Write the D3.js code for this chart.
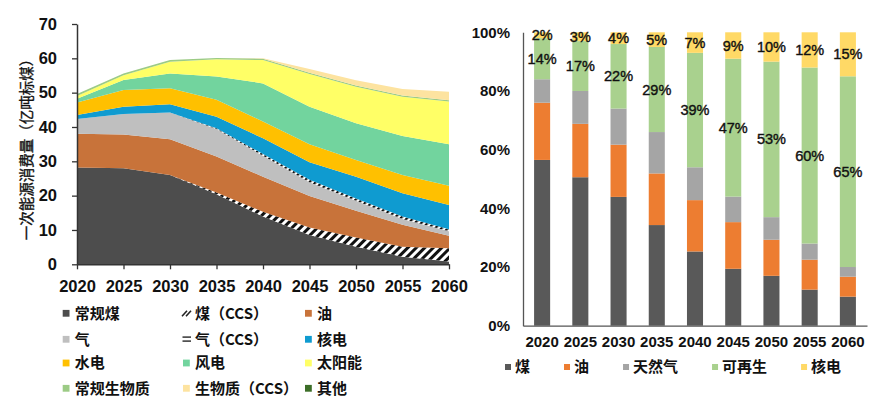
<!DOCTYPE html>
<html>
<head>
<meta charset="utf-8">
<script src="https://cdn.jsdelivr.net/npm/d3@7"></script>
<style>
body { margin: 0; background: #fff; }
svg { display: block; font-family: "Liberation Sans", Arial, "Noto Sans CJK SC", sans-serif; }
.cjk { font-family: "Noto Sans CJK SC", sans-serif; }
</style>
</head>
<body>
<svg id="chart" width="886" height="402"></svg>
<script>
// ---- data: left chart (亿吨标煤) ----
const years = [2020, 2025, 2030, 2035, 2040, 2045, 2050, 2055, 2060];
const yTicksLeft = [0, 10, 20, 30, 40, 50, 60, 70];

const coalConv = [28.2, 28.0, 26.0, 20.4, 13.9, 8.5, 5.1, 2.2, 0.8];
const coalCCS  = [0, 0, 0, 0.5, 1.4, 2.2, 2.7, 2.9, 3.9];
const oil      = [9.8, 9.8, 10.4, 10.5, 10.2, 9.2, 7.8, 6.4, 3.6];
const gas      = [4.3, 6.0, 7.8, 8.0, 6.1, 4.0, 2.9, 1.7, 1.3];
const gasCCS   = [0, 0, 0, 0.2, 0.5, 0.7, 0.7, 0.7, 0.6];
const nuclear  = [1.2, 2.1, 2.4, 3.4, 4.6, 5.1, 6.3, 6.8, 7.1];
const hydro    = [3.6, 4.9, 4.7, 4.9, 4.9, 5.3, 4.9, 5.3, 5.6];
const wind     = [1.1, 2.9, 4.3, 6.8, 11.1, 10.9, 10.7, 11.4, 12.1];
const solar    = [0.8, 1.4, 3.4, 5.0, 6.8, 9.5, 10.6, 11.4, 12.4];
const bioConv  = [0.6, 0.5, 0.5, 0.4, 0.4, 0.4, 0.4, 0.4, 0.4];
const bioCCS   = [0, 0, 0, 0, 0.1, 1.1, 1.5, 1.9, 2.5];
const other    = [0, 0, 0, 0, 0, 0, 0, 0, 0];

// ---- data: right chart (%) ----
const shareKeys = ["煤", "油", "天然气", "可再生", "核电"];
const coalShare  = [56.5, 50.6, 43.9, 34.3, 25.3, 19.4, 17.0, 12.3, 9.9];
const oilShare   = [19.5, 18.2, 17.8, 17.6, 17.5, 15.9, 12.3, 10.2, 6.8];
const gasShare   = [8.0, 11.2, 12.3, 14.1, 11.2, 8.7, 7.7, 5.5, 3.3];
const renewShare = [14, 17, 22, 29, 39, 47, 53, 60, 65];
const nucShare   = [2, 3, 4, 5, 7, 9, 10, 12, 15];
const yTicksRight = [0, 20, 40, 60, 80, 100];

const svg = d3.select("#chart");

// patterns for CCS hatching
const defs = svg.append("defs");
function hatch(id, size, stripe) {
	const p = defs.append("pattern")
		.attr("id", id)
		.attr("patternUnits", "userSpaceOnUse")
		.attr("width", size)
		.attr("height", size)
		.attr("patternTransform", "rotate(45)");
	p.append("rect").attr("width", size).attr("height", size).attr("fill", "#fff");
	p.append("rect").attr("width", stripe).attr("height", size).attr("fill", "#111");
}
hatch("hatchCoal", 6, 3);
hatch("hatchGas", 4.5, 2.2);

// ================= LEFT: stacked area =================
const layers = [
	{ key: "常规煤", values: coalConv, fill: "#4d4d4d" },
	{ key: "煤（CCS）", values: coalCCS, fill: "url(#hatchCoal)", sym: "slash" },
	{ key: "油", values: oil, fill: "#c8733a" },
	{ key: "气", values: gas, fill: "#bfbfbf" },
	{ key: "气（CCS）", values: gasCCS, fill: "url(#hatchGas)", sym: "equal" },
	{ key: "核电", values: nuclear, fill: "#0f9bd0" },
	{ key: "水电", values: hydro, fill: "#ffc000" },
	{ key: "风电", values: wind, fill: "#72d49e" },
	{ key: "太阳能", values: solar, fill: "#ffff66" },
	{ key: "常规生物质", values: bioConv, fill: "#9ccb85" },
	{ key: "生物质（CCS）", values: bioCCS, fill: "#fde3a0" },
	{ key: "其他", values: other, fill: "#3c6e28" }
];

const table = years.map((yr, i) => {
	const row = { year: yr };
	layers.forEach(l => row[l.key] = l.values[i]);
	return row;
});

const x = d3.scaleLinear().domain([2020, 2060]).range([77, 449]);
const y = d3.scaleLinear().domain([0, 70]).range([264.3, 24]);

const series = d3.stack().keys(layers.map(l => l.key))(table);
const area = d3.area()
	.x(d => x(d.data.year))
	.y0(d => y(d[0]))
	.y1(d => y(d[1]));

const left = svg.append("g").attr("class", "left");
left.selectAll("path.layer")
	.data(series)
	.join("path")
		.attr("class", "layer")
		.attr("d", area)
		.attr("fill", (d, i) => layers[i].fill);

// axes
const xAxisL = left.append("g")
	.attr("transform", "translate(0," + y(0) + ")")
	.call(d3.axisBottom(x).tickValues(years).tickFormat(d3.format("d")).tickSize(5).tickSizeOuter(0).tickPadding(11));
const yAxisL = left.append("g")
	.attr("transform", "translate(" + x(2020) + ",0)")
	.call(d3.axisLeft(y).tickValues(yTicksLeft).tickSize(5).tickSizeOuter(0).tickPadding(15));
[xAxisL, yAxisL].forEach(a => {
	a.selectAll("text").style("font-size", "16.5px").style("font-weight", "bold").style("fill", "#111");
	a.selectAll("line").attr("stroke", "#333").attr("stroke-width", 1.3);
	a.select(".domain").attr("stroke", "#333").attr("stroke-width", 1.5);
});

left.append("text")
	.attr("class", "cjk")
	.attr("transform", "translate(25,146)rotate(-90)")
	.attr("text-anchor", "middle")
	.attr("dominant-baseline", "central")
	.style("font-size", "14.5px")
	.style("fill", "#111")
	.style("stroke", "#111")
	.style("stroke-width", 0.35)
	.text("一次能源消费量（亿吨标煤）");

// legend
const legCols = [62.7, 183, 305];
const legRows = [313.3, 339.3, 363, 388.3];
const legL = left.append("g").attr("class", "legend-left");
layers.forEach((l, i) => {
	const cx = legCols[i % 3], cy = legRows[Math.floor(i / 3)];
	const g = legL.append("g").attr("transform", "translate(" + cx + "," + cy + ")");
	if (l.sym === "slash") {
		[0, 4].forEach(o => g.append("line")
			.attr("x1", o - 1).attr("y1", 3).attr("x2", o + 4).attr("y2", -2.5)
			.attr("stroke", "#222").attr("stroke-width", 1.6));
	} else if (l.sym === "equal") {
		[-2.2, 1.8].forEach(o => g.append("line")
			.attr("x1", -0.5).attr("y1", o).attr("x2", 8).attr("y2", o)
			.attr("stroke", "#333").attr("stroke-width", 1.5));
	} else {
		g.append("rect").attr("x", 0).attr("y", -3.4).attr("width", 6.8).attr("height", 6.8).attr("fill", l.fill);
	}
	g.append("text")
		.attr("class", "cjk")
		.attr("x", 12)
		.attr("dy", "0.35em")
		.style("font-size", "15px")
		.style("font-weight", "bold")
		.style("fill", "#111")
		.text(l.key);
});

// ================= RIGHT: 100% stacked bars =================
const shareFills = ["#595959", "#ed7d31", "#a5a5a5", "#a9d18e", "#ffd966"];
const shareTable = years.map((yr, i) => ({
	year: yr,
	"煤": coalShare[i], "油": oilShare[i], "天然气": gasShare[i],
	"可再生": renewShare[i], "核电": nucShare[i]
}));
const shareSeries = d3.stack().keys(shareKeys)(shareTable);

const xb = d3.scaleBand().domain(years).range([523, 867]).paddingInner(0.58).paddingOuter(0.29);
const yb = d3.scaleLinear().domain([0, 100]).range([325.7, 32.3]);

const right = svg.append("g").attr("class", "right");
right.selectAll("g.seg")
	.data(shareSeries)
	.join("g")
		.attr("class", "seg")
		.attr("fill", (d, i) => shareFills[i])
	.selectAll("rect")
	.data(d => d)
	.join("rect")
		.attr("x", d => xb(d.data.year))
		.attr("y", d => yb(d[1]))
		.attr("width", xb.bandwidth())
		.attr("height", d => yb(d[0]) - yb(d[1]));

// labels on renewable and nuclear segments
right.selectAll("g.lab")
	.data(shareSeries.filter(s => s.key === "可再生" || s.key === "核电"))
	.join("g")
		.attr("class", "lab")
	.selectAll("text")
	.data(d => d)
	.join("text")
		.attr("x", d => xb(d.data.year) + xb.bandwidth() / 2)
		.attr("y", d => yb((d[0] + d[1]) / 2))
		.attr("dy", "0.35em")
		.attr("text-anchor", "middle")
		.style("font-size", "14.5px")
		.style("fill", "#111")
		.style("stroke", "#111")
		.style("stroke-width", 0.4)
		.text(d => Math.round(d[1] - d[0]) + "%");

const xAxisR = right.append("g")
	.attr("transform", "translate(0," + yb(0) + ")")
	.call(d3.axisBottom(xb).tickSize(0).tickPadding(11));
const yAxisR = right.append("g")
	.attr("transform", "translate(523,0)")
	.call(d3.axisLeft(yb).tickValues(yTicksRight).tickFormat(d => d + "%").tickSize(0).tickPadding(13));
[xAxisR, yAxisR].forEach(a => {
	a.selectAll("text").style("font-size", "15px").style("font-weight", "bold").style("fill", "#111");
	a.select(".domain").attr("stroke", "#555").attr("stroke-width", 1.3);
});

// right legend
const legR = right.append("g").attr("class", "legend-right").attr("transform", "translate(0,367)");
let lx = 505;
shareKeys.forEach((k, i) => {
	legR.append("rect").attr("x", lx).attr("y", -3).attr("width", 6).attr("height", 6).attr("fill", shareFills[i]);
	const t = legR.append("text")
		.attr("class", "cjk")
		.attr("x", lx + 10)
		.attr("dy", "0.35em")
		.style("font-size", "15px")
		.style("font-weight", "bold")
		.style("fill", "#111")
		.text(k);
	lx += 10 + t.node().getComputedTextLength() + 34;
});
</script>
</body>
</html>
